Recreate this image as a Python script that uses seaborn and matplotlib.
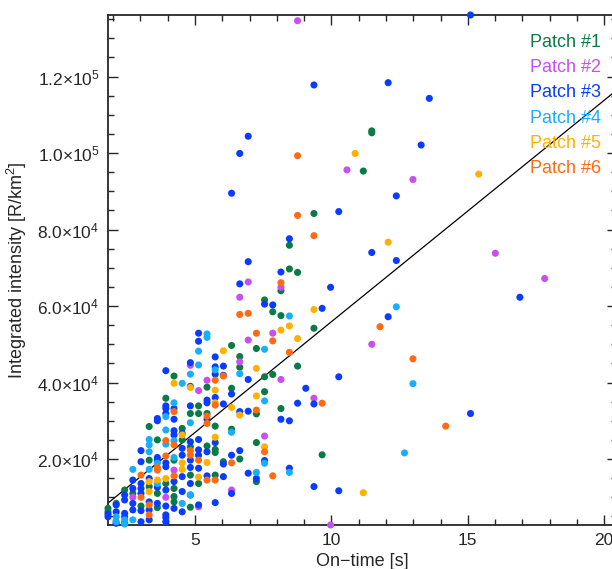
import numpy as np
import pandas as pd
import matplotlib
matplotlib.use("Agg")
import matplotlib.pyplot as plt
from matplotlib.ticker import MultipleLocator, FuncFormatter
import seaborn as sns

# on-time [s], integrated intensity [R/km^2] per patch
patch1 = [(3.93, 35900), (5.13, 33900), (4.83, 31900), (5.13, 31900), (3.32, 28500), (4.53, 28000),
          (3.62, 25000), (4.53, 25000), (4.83, 23200), (3.32, 19700), (4.23, 19700), (4.83, 15800),
          (5.13, 13600), (3.93, 13600), (2.42, 11900), (3.32, 12800), (4.23, 12300), (2.72, 11000),
          (3.62, 11000), (4.23, 10200), (2.11, 8400), (3.02, 7700), (3.62, 7300), (4.23, 8800),
          (4.83, 7400), (1.81, 7100), (1.81, 6200), (6.34, 38500), (7.55, 37600), (8.15, 33200),
          (5.44, 31900), (5.74, 28600), (7.25, 31800), (6.34, 27800), (7.25, 24300), (5.44, 23400),
          (5.74, 22500), (5.74, 21700), (6.64, 20000), (6.04, 19300), (5.74, 15800), (7.25, 14100),
          (4.23, 41700), (5.44, 38800), (8.46, 75900), (8.46, 69700), (8.76, 68800), (8.15, 64000),
          (7.55, 61600), (7.85, 58500), (8.15, 57500), (9.36, 54200), (6.34, 49700), (7.25, 48900),
          (6.64, 46800), (6.64, 44000), (8.76, 44300), (7.55, 41500), (7.85, 42100), (11.48, 105800),
          (11.48, 105300), (11.17, 95300), (9.36, 84200), (9.66, 21100)]
patch2 = [(5.13, 37900), (4.23, 17100), (2.72, 10000), (3.93, 10000), (5.44, 40600), (7.55, 26000),
          (6.34, 11900), (5.13, 7500), (4.83, 44500), (6.95, 66300), (8.15, 64900), (6.64, 62300),
          (6.95, 51100), (7.85, 52900), (6.64, 45400), (8.15, 40800), (8.76, 134600), (10.57, 95600),
          (12.99, 93100), (16.01, 73800), (17.82, 67200), (11.48, 50000), (9.36, 35900), (9.97, 2750)]
patch3 = [(4.83, 39000), (3.93, 33900), (4.83, 33900), (3.93, 33200), (4.23, 33200), (3.93, 31900),
          (3.62, 30600), (4.23, 30400), (3.62, 30000), (4.23, 27400), (4.53, 26700), (4.23, 26300),
          (4.83, 24500), (4.53, 22800), (3.02, 22200), (3.62, 20400), (4.53, 21000), (5.13, 21000),
          (3.02, 19300), (3.62, 19700), (3.93, 19000), (4.83, 19700), (3.93, 18000), (4.83, 17800),
          (2.72, 14500), (3.02, 13600), (3.32, 14900), (4.53, 15400), (4.83, 13600), (4.23, 14100),
          (2.72, 12300), (3.02, 12300), (3.62, 12600), (3.93, 11900), (4.53, 11500), (4.83, 10600),
          (2.42, 10600), (3.02, 11000), (2.11, 8000), (2.42, 9300), (2.72, 8400), (3.32, 8800),
          (3.62, 8400), (3.93, 7700), (5.13, 8000), (4.23, 7100), (4.53, 6200), (1.81, 5600),
          (2.11, 6200), (2.42, 5800), (2.72, 6700), (3.02, 6500), (3.32, 6700), (3.93, 5400),
          (3.93, 4700), (2.42, 4900), (1.81, 4900), (2.11, 3200), (2.42, 3400), (3.02, 3600),
          (3.32, 4100), (3.93, 3600),
          (6.34, 37000), (5.44, 35400), (5.44, 34700), (5.74, 36100), (6.04, 34400), (8.76, 34600),
          (5.44, 30400), (6.64, 32400), (6.95, 32500), (8.15, 30400), (8.46, 30000), (5.13, 25100),
          (5.74, 24300), (5.13, 22400), (5.44, 21900), (6.34, 21000), (6.64, 22200), (6.04, 18700),
          (7.55, 19600), (8.46, 17600), (5.13, 17600), (5.44, 15600), (6.04, 15400), (6.95, 16300),
          (7.25, 14900), (6.34, 11000), (5.74, 8600),
          (4.83, 45200), (5.74, 44100), (5.74, 42200), (6.04, 44300), (6.04, 41900), (3.93, 43100),
          (6.95, 40800), (5.74, 46700), (8.46, 77600), (6.95, 71600), (8.15, 68900), (6.64, 65800),
          (7.55, 60500), (7.85, 60300), (5.13, 52900), (5.13, 50800), (6.95, 104400), (6.64, 99900),
          (6.34, 89500), (15.10, 136100), (9.36, 117800), (12.08, 118400), (13.59, 114300),
          (13.29, 102100), (12.38, 88800), (10.27, 84700), (11.48, 74000), (12.38, 71900),
          (9.97, 64900), (16.91, 62300), (9.66, 59400), (12.08, 57200), (10.27, 41500), (9.06, 38500),
          (9.36, 34400), (15.10, 31900), (9.36, 12800), (10.27, 11700)]
patch4 = [(4.53, 39800), (4.23, 34700), (3.93, 31100), (4.83, 29500), (3.93, 27600), (3.32, 25100),
          (4.23, 24800), (3.93, 23900), (3.32, 23700), (3.32, 21900), (4.23, 20400), (3.62, 18900),
          (2.72, 17300), (3.32, 17300), (3.62, 13600), (4.83, 10600), (4.53, 8400), (2.11, 4900),
          (2.11, 3600), (2.42, 4100), (2.72, 4100), (2.42, 3000), (7.55, 35200), (6.34, 27000),
          (7.55, 18900), (8.46, 16500), (7.25, 16500), (4.83, 42200), (5.74, 43300), (5.13, 44600),
          (5.13, 48200), (5.44, 52700), (5.44, 51800), (8.46, 57400), (7.55, 48700), (6.64, 42300),
          (12.38, 59800), (12.99, 39700), (12.68, 21600)]
patch5 = [(4.23, 39800), (4.83, 38700), (4.53, 26300), (4.53, 19000), (4.53, 17300), (5.13, 15300),
          (3.32, 14100), (3.62, 14500), (3.93, 14900), (3.32, 11500), (5.74, 38000), (7.25, 36500),
          (5.74, 34700), (6.34, 33500), (6.64, 31500), (5.74, 25700), (7.55, 23200), (5.44, 19100),
          (9.36, 59100), (8.46, 54800), (8.15, 53700), (8.76, 51500), (6.04, 48300), (7.25, 43700),
          (10.87, 99900), (15.40, 94500), (12.08, 76700), (11.17, 11200)]
patch6 = [(4.23, 32400), (3.93, 24800), (4.23, 23700), (4.83, 22200), (3.93, 20800), (4.83, 21000),
          (3.62, 17800), (3.02, 15800), (3.62, 17100), (4.23, 15600), (3.02, 10000), (3.32, 8000),
          (3.32, 5400), (5.74, 40600), (5.74, 34100), (5.44, 31200), (5.44, 29300), (7.25, 32800),
          (7.55, 21900), (6.34, 19000), (5.13, 19700), (5.44, 14500), (5.74, 14500), (7.85, 15600),
          (6.64, 57800), (6.95, 58100), (7.25, 52900), (7.85, 50900), (8.46, 47900), (8.15, 66100),
          (8.76, 99300), (8.76, 83700), (9.36, 78400), (11.78, 54600), (12.99, 46200), (14.19, 28600),
          (9.66, 34600), (6.04, 41700)]

patch_names = ["Patch #1", "Patch #2", "Patch #3", "Patch #4", "Patch #5", "Patch #6"]
patch_colors = ["#0a7a46", "#c84ff0", "#0a3cff", "#19aefa", "#ffb000", "#ff6a12"]

# linear fit drawn over the data
fit_slope = 5790
fit_intercept = -2000

rows = []
for name, pts in zip(patch_names, [patch1, patch2, patch3, patch4, patch5, patch6]):
    for x, y in pts:
        rows.append((name, x, y))
df = pd.DataFrame(rows, columns=["patch", "ontime", "intensity"])

sns.set_style("ticks")
plt.rcParams["font.family"] = ["Liberation Sans", "DejaVu Sans"]
plt.rcParams["mathtext.fontset"] = "custom"
plt.rcParams["mathtext.rm"] = "Liberation Sans"
plt.rcParams["mathtext.it"] = "Liberation Sans:italic"
plt.rcParams["mathtext.bf"] = "Liberation Sans:bold"

fig = plt.figure(figsize=(6.12, 5.69), dpi=100)
ax = fig.add_axes([108 / 612, 1 - 525 / 569, 509 / 612, 510 / 569])

sns.scatterplot(data=df, x="ontime", y="intensity", hue="patch", hue_order=patch_names,
                palette=dict(zip(patch_names, patch_colors)), s=26, linewidth=0,
                clip_on=False, zorder=3, ax=ax)

xlim = (df["ontime"].min(), 20.47)
ylim = (df["intensity"].min(), df["intensity"].max())
xx = np.array(xlim)
ax.plot(xx, fit_slope * xx + fit_intercept, color="black", lw=0.9, zorder=2)
ax.set_xlim(xlim)
ax.set_ylim(ylim)

ax.xaxis.set_major_locator(MultipleLocator(5))
ax.xaxis.set_minor_locator(MultipleLocator(1))
ax.yaxis.set_major_locator(MultipleLocator(20000))
ax.yaxis.set_minor_locator(MultipleLocator(5000))


def sci(v, pos):
    if v <= 0:
        return ""
    e = int(np.floor(np.log10(v) + 1e-9))
    return f"{v / 10**e:.1f}\u00d710$^{{{e}}}$"


ax.yaxis.set_major_formatter(FuncFormatter(sci))
ax.tick_params(which="both", direction="in", top=True, right=True, width=1, labelsize=12.5)
ax.tick_params(which="major", length=7, pad=6)
ax.tick_params(which="minor", length=4)
for s in ax.spines.values():
    s.set_linewidth(1.3)

ax.set_xlabel("On\u2212time [s]", fontsize=13, labelpad=3)
ax.set_ylabel("Integrated intensity [R/km$^2$]", fontsize=13, labelpad=6)

handles, labels = ax.get_legend_handles_labels()
leg = ax.legend(handles, labels, loc="upper left", bbox_to_anchor=(0.829, 0.963),
                frameon=False, handlelength=0, handletextpad=0, borderpad=0,
                borderaxespad=0, labelspacing=0.46, fontsize=13, labelcolor=patch_colors)
for h in leg.legend_handles:
    h.set_visible(False)

fig.savefig("out.png", dpi=100)
